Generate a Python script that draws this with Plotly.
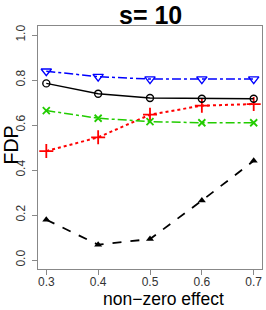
import plotly.graph_objects as go

effect = [0.3, 0.4, 0.5, 0.6, 0.7]
blue_tri = [0.839, 0.815, 0.804, 0.804, 0.804]
black_circ = [0.785, 0.739, 0.720, 0.717, 0.717]
green_x = [0.664, 0.630, 0.615, 0.610, 0.610]
red_plus = [0.484, 0.545, 0.646, 0.686, 0.693]
black_tri = [0.179, 0.068, 0.093, 0.264, 0.441]

xticks = [0.3, 0.4, 0.5, 0.6, 0.7]
yticks = [0.0, 0.2, 0.4, 0.6, 0.8, 1.0]

W, H = 266, 310
L, R, T, B = 38, 4, 26, 41

fig = go.Figure()
fig.add_trace(go.Scatter(x=effect, y=black_tri, mode="lines+markers",
    line=dict(color="black", width=1.8, dash="dash"),
    marker=dict(symbol="triangle-up", size=7, color="black")))
fig.add_trace(go.Scatter(x=effect, y=red_plus, mode="lines+markers",
    line=dict(color="#ff0000", width=2, dash="dot"),
    marker=dict(symbol="cross-thin-open", size=10, line=dict(color="#ff0000", width=1.8))))
fig.add_trace(go.Scatter(x=effect, y=green_x, mode="lines+markers",
    line=dict(color="#22cc00", width=1.5, dash="dashdot"),
    marker=dict(symbol="x-thin-open", size=7, line=dict(color="#22cc00", width=1.8))))
fig.add_trace(go.Scatter(x=effect, y=black_circ, mode="lines+markers",
    line=dict(color="black", width=1.5),
    marker=dict(symbol="circle-open", size=7, line=dict(color="black", width=1.4))))
fig.add_trace(go.Scatter(x=effect, y=blue_tri, mode="lines+markers",
    line=dict(color="#0000ff", width=1.5, dash="dashdot"),
    marker=dict(symbol="triangle-down-open", size=9, line=dict(color="#0000ff", width=1.4))))

axis_common = dict(showgrid=False, zeroline=False, showline=True, mirror=True,
                   linecolor="#888888", linewidth=1, ticks="outside", ticklen=5,
                   tickcolor="#888888",
                   tickfont=dict(family="Liberation Sans, Arial", size=12, color="#333333"))
fig.update_xaxes(range=[0.284, 0.716], tickvals=xticks, ticklabelstandoff=-3,
                 ticktext=[f"{v:.1f}" for v in xticks], **axis_common)
fig.update_yaxes(range=[-0.04, 1.04], tickvals=yticks, ticklabelstandoff=2,
                 ticktext=[f"{v:.1f}" for v in yticks], tickangle=-90, **axis_common)

fig.update_layout(
    width=W, height=H, showlegend=False, autosize=False,
    plot_bgcolor="white", paper_bgcolor="white",
    margin=dict(l=L, r=R, t=T, b=B, autoexpand=False),
)

for txt, x, y, size, ang in [("<b>s= 10</b>", 150, 15, 25, 0),
                             ("non\u2212zero effect", 163, 299, 17.5, 0),
                             ("FDP", 10.5, 145, 19.5, -90)]:
    px = (x - L) / (W - L - R)
    py = (H - B - y) / (H - T - B)
    fig.add_annotation(text=txt, x=px, y=py, xref="paper", yref="paper",
                       xanchor="center", yanchor="middle", showarrow=False, textangle=ang,
                       font=dict(family="Liberation Sans, Arial", size=size, color="black"))

fig.write_html("out.html", config={"displayModeBar": False, "staticPlot": True})
with open("out.html", "r", encoding="utf-8") as f:
    html = f.read()
html = html.replace("<head>", "<head><style>html,body{margin:0;padding:0;overflow:hidden;}</style>", 1)
with open("out.html", "w", encoding="utf-8") as f:
    f.write(html)
